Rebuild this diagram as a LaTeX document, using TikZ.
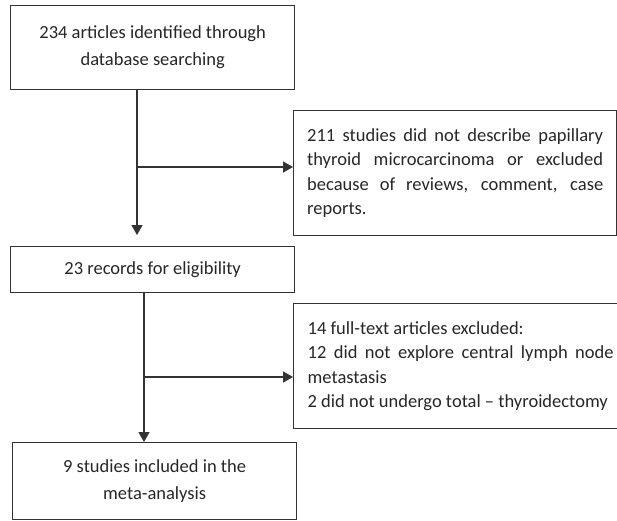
\documentclass[tikz,border=0pt]{standalone}
\usepackage{fontspec}
\setmainfont{Carlito}
\usetikzlibrary{arrows.meta}
\definecolor{linegray}{HTML}{333333}
\definecolor{textgray}{HTML}{262626}
\hyphenpenalty=10000
\exhyphenpenalty=10000

\begin{document}
\begin{tikzpicture}[x=1pt, y=-1pt,
	box/.style={draw=linegray, line width=1.3pt, text=textgray, anchor=north west, inner sep=0pt},
	midtext/.style={align=center, font=\fontsize{18.5}{27}\selectfont},
	sidetext/.style={align=justify, font=\fontsize{18.5}{24.5}\selectfont},
	flow/.style={draw=linegray, line width=1.3pt, -{Triangle[length=10pt, width=11pt]}}]
	\useasboundingbox (0,0) rectangle (617,520);
	%% boxes down the left side
	\node[box, midtext, minimum width=284pt, minimum height=84pt] (ident) at (10,5) {234 articles identified through\\database searching};
	\node[box, midtext, minimum width=284pt, minimum height=46pt] (elig) at (10,246) {23 records for eligibility};
	\node[box, midtext, minimum width=284pt, minimum height=77pt] (incl) at (12,442) {9 studies included in the\\meta-analysis};
	%% boxes on the right
	\node[box, sidetext, text width=296pt, minimum width=323pt, minimum height=125pt] (excl1) at (293,110) {211 studies did not describe papillary thyroid microcarcinoma or excluded because of reviews, comment, case reports.};
	\node[box, sidetext, text width=306pt, inner xsep=14pt, minimum height=125pt] (excl2) at (293,303) {14 full-text articles excluded:\\12 did not explore central lymph node metastasis\\2 did not undergo total -- thyroidectomy};
	%% arrows
	\coordinate (j1) at (137,167);
	\coordinate (j2) at (144,377);
	\draw[flow, shorten >=11pt] (ident.south -| j1) -- (elig.north -| j1);
	\draw[flow] (j1) -- (j1 -| excl1.west);
	\draw[flow] (elig.south -| j2) -- (incl.north -| j2);
	\draw[flow] (j2) -- (j2 -| excl2.west);
\end{tikzpicture}
\end{document}
